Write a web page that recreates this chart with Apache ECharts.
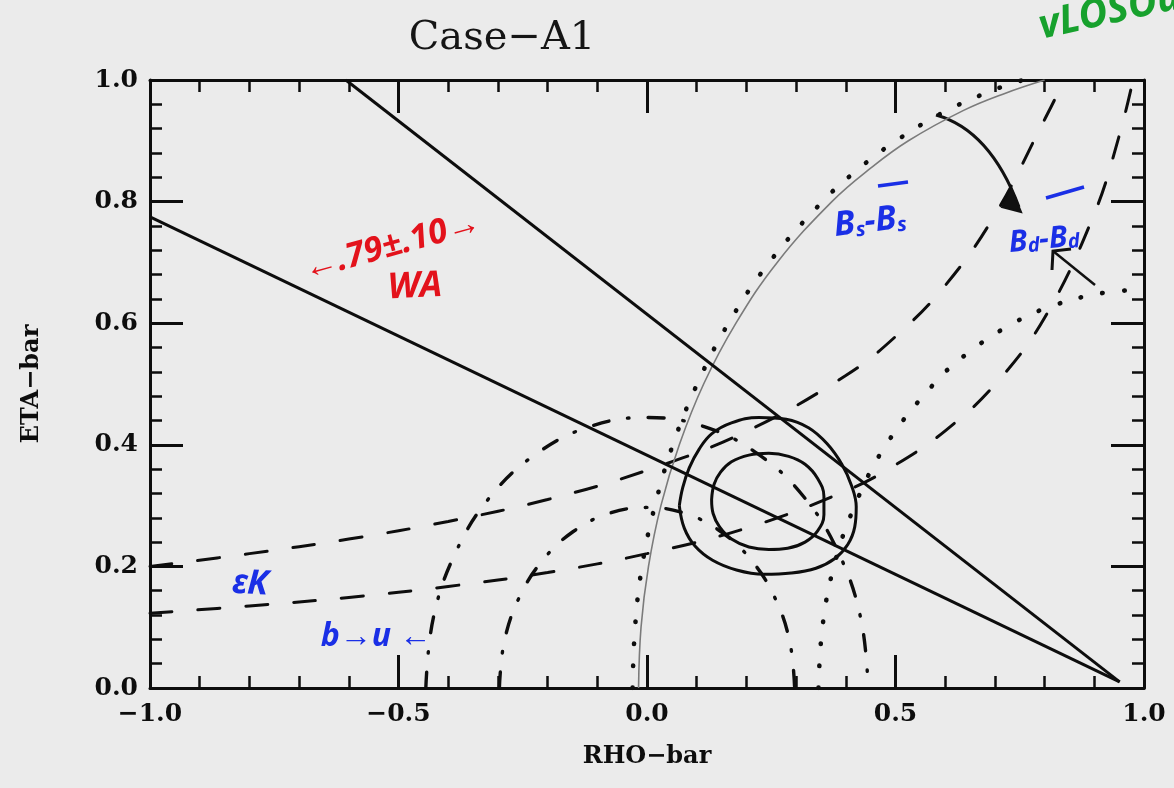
<!DOCTYPE html>
<html>
<head>
<meta charset="utf-8">
<script src="https://cdn.jsdelivr.net/npm/echarts@6/dist/echarts.min.js"></script>
<style>
  html, body { margin: 0; padding: 0; background: #ebebeb; }
  #chart { width: 1174px; height: 788px; }
</style>
</head>
<body>
<div id="chart"></div>
<script>
// Tick labels of the rho-bar / eta-bar plane
const rhoTickLabels = ['−1.0', '−0.5', '0.0', '0.5', '1.0'];
const etaTickLabels = ['0.0', '0.2', '0.4', '0.6', '0.8', '1.0'];

// sin(2 beta) wedge (solid straight lines), [rho, eta]
const sin2bUpper = [[-0.606, 1.000], [0.951, 0.010]];
const sin2bLower = [[-1.000, 0.775], [0.951, 0.010]];

// Fit contours (closed solid loops)
const contourOuter = [
  [0.065, 0.300], [0.072, 0.330], [0.085, 0.362], [0.105, 0.393], [0.130, 0.418],
  [0.170, 0.436], [0.225, 0.445], [0.280, 0.442], [0.325, 0.428], [0.362, 0.402],
  [0.392, 0.368], [0.412, 0.332], [0.421, 0.298], [0.418, 0.265], [0.404, 0.236],
  [0.378, 0.213], [0.340, 0.197], [0.290, 0.189], [0.235, 0.187], [0.180, 0.194],
  [0.132, 0.210], [0.097, 0.233], [0.075, 0.263], [0.065, 0.300]
];
const contourInner = [
  [0.130, 0.310], [0.135, 0.335], [0.148, 0.355], [0.170, 0.372], [0.205, 0.383],
  [0.245, 0.386], [0.285, 0.381], [0.318, 0.368], [0.343, 0.345], [0.356, 0.315],
  [0.356, 0.285], [0.343, 0.258], [0.318, 0.240], [0.283, 0.230], [0.245, 0.228],
  [0.205, 0.232], [0.170, 0.245], [0.146, 0.265], [0.133, 0.287], [0.130, 0.310]
];

// Bs-Bsbar mixing bound (thin grey arc)
const dmsBound = [
  [-0.017, 0.000], [-0.012, 0.100], [0.003, 0.200], [0.028, 0.300], [0.065, 0.400],
  [0.114, 0.500], [0.179, 0.600], [0.262, 0.700], [0.372, 0.800], [0.450, 0.855],
  [0.526, 0.900], [0.637, 0.950], [0.720, 0.978], [0.800, 1.000]
];

// Bd-Bdbar mixing band (dotted arcs)
const dmdOuter = [
  [-0.029, 0.000], [-0.024, 0.100], [-0.010, 0.200], [0.016, 0.300], [0.052, 0.400],
  [0.101, 0.500], [0.164, 0.600], [0.246, 0.700], [0.353, 0.800], [0.420, 0.850],
  [0.501, 0.900], [0.604, 0.950], [0.705, 0.986], [0.757, 1.000]
];
const dmdInner = [
  [0.345, 0.000], [0.353, 0.100], [0.376, 0.200], [0.418, 0.300], [0.481, 0.400],
  [0.577, 0.500], [0.644, 0.550], [0.737, 0.600], [0.821, 0.630], [0.919, 0.650],
  [1.000, 0.655]
];

// |Vub/Vcb| band (dash-dot arcs)
const vubInner = [
  [-0.297, 0.000], [-0.287, 0.077], [-0.257, 0.149], [-0.210, 0.210], [-0.149, 0.257],
  [-0.077, 0.287], [0.000, 0.297], [0.077, 0.287], [0.149, 0.257], [0.210, 0.210],
  [0.257, 0.149], [0.287, 0.077], [0.297, 0.000]
];
const vubOuter = [
  [-0.445, 0.000], [-0.430, 0.115], [-0.385, 0.223], [-0.315, 0.315], [-0.223, 0.385],
  [-0.115, 0.430], [0.000, 0.445], [0.115, 0.430], [0.223, 0.385], [0.315, 0.315],
  [0.385, 0.223], [0.430, 0.115], [0.445, 0.000]
];

// epsilon_K band (dashed hyperbolas)
const epsKUpper = [
  [-1.0, 0.200], [-0.8, 0.221], [-0.6, 0.245], [-0.4, 0.274], [-0.2, 0.310],
  [0.0, 0.358], [0.2, 0.422], [0.4, 0.514], [0.5, 0.578], [0.6, 0.662],
  [0.7, 0.778], [0.8, 0.935], [0.84, 1.000]
];
const epsKLower = [
  [-1.0, 0.123], [-0.8, 0.135], [-0.6, 0.149], [-0.4, 0.167], [-0.2, 0.190],
  [0.0, 0.221], [0.2, 0.263], [0.4, 0.324], [0.5, 0.367], [0.6, 0.423],
  [0.7, 0.499], [0.8, 0.609], [0.9, 0.780], [0.95, 0.908], [0.978, 1.000]
];

const INK = '#0d0d0d';
const labelFont = { fontFamily: '"DejaVu Serif"', fontWeight: 'bold', fontSize: 25, color: INK };

function frameAxis(opts) {
  return Object.assign({
    type: 'value',
    axisLine: { show: true, onZero: false, lineStyle: { color: INK, width: 3 } },
    axisTick: { show: true, inside: true, length: 33, lineStyle: { color: INK, width: 3 } },
    minorTick: { show: true, splitNumber: 5, length: 12, lineStyle: { color: INK, width: 2.5 } },
    splitLine: { show: false },
    minorSplitLine: { show: false }
  }, opts);
}

function curve(data, style, smooth) {
  return {
    type: 'line', data: data, showSymbol: false, symbol: 'none',
    smooth: smooth === undefined ? 0.4 : smooth,
    lineStyle: style, silent: true, clip: true
  };
}

const dashed = { color: INK, width: 3, type: [22, 26], cap: 'round' };
const dotted = { color: INK, width: 4.6, type: [0.5, 21.5], cap: 'round' };
const dashDot = { color: INK, width: 3.4, type: [16, 19, 1.5, 19], cap: 'round' };
const solid = { color: INK, width: 3, type: 'solid' };

const handFont = 'italic bold 34px "Noto Sans"';
const red = '#e3121b';
const blue = '#1a2fe6';

const chart = echarts.init(document.getElementById('chart'), null, { renderer: 'canvas' });
chart.setOption({
  animation: false,
  backgroundColor: '#ebebeb',
  title: {
    text: 'Case−A1', left: 497, top: 14, textAlign: 'center',
    textStyle: { fontFamily: '"DejaVu Serif"', fontWeight: 'normal', fontSize: 40, color: '#151515' }
  },
  grid: { left: 150, right: 30, top: 80, bottom: 100, containLabel: false },
  xAxis: [
    frameAxis({
      position: 'bottom', min: -1, max: 1, interval: 0.5,
      axisLabel: Object.assign({ margin: 14, showMinLabel: true, showMaxLabel: true,
        formatter: v => rhoTickLabels[Math.round((v + 1) / 0.5)] }, labelFont),
      name: 'RHO−bar', nameLocation: 'middle', nameGap: 57,
      nameTextStyle: { fontFamily: '"DejaVu Serif"', fontWeight: 'bold', fontSize: 24, color: INK }
    }),
    frameAxis({ position: 'top', min: -1, max: 1, interval: 0.5, axisLabel: { show: false } })
  ],
  yAxis: [
    frameAxis({
      position: 'left', min: 0, max: 1, interval: 0.2,
      axisLabel: Object.assign({ margin: 12, showMinLabel: true, showMaxLabel: true,
        formatter: v => etaTickLabels[Math.round(v / 0.2)] }, labelFont),
      name: 'ETA−bar', nameLocation: 'middle', nameGap: 106, nameRotate: 90,
      nameTextStyle: { fontFamily: '"DejaVu Serif"', fontWeight: 'bold', fontSize: 24, color: INK }
    }),
    frameAxis({ position: 'right', min: 0, max: 1, interval: 0.2, axisLabel: { show: false } })
  ],
  series: [
    curve(epsKUpper, dashed),
    curve(epsKLower, dashed),
    curve(vubInner, dashDot),
    curve(vubOuter, dashDot),
    curve(dmdOuter, dotted),
    curve(dmdInner, dotted),
    curve(dmsBound, { color: '#7b7b7b', width: 1.6, type: 'solid' }),
    curve(sin2bUpper, solid, false),
    curve(sin2bLower, solid, false),
    curve(contourOuter, solid),
    curve(contourInner, solid)
  ],
  graphic: [
    // handwritten notes
    { type: 'text', x: 392, y: 246, rotation: 0.27,
      style: { text: '←.79±.10→', font: handFont, fill: red,
        align: 'center', verticalAlign: 'middle', textAlign: 'center', textVerticalAlign: 'middle' } },
    { type: 'text', x: 415, y: 287, rotation: 0.05,
      style: { text: 'WA', font: 'italic bold 36px "Noto Sans"', fill: red,
        align: 'center', verticalAlign: 'middle', textAlign: 'center', textVerticalAlign: 'middle' } },
    { type: 'text', x: 870, y: 222, rotation: 0.12,
      style: { text: '{b|B}{s|s}{b|-B}{s|s}', fill: blue,
        align: 'center', verticalAlign: 'middle', textAlign: 'center', textVerticalAlign: 'middle',
        rich: { b: { font: handFont, fill: blue }, s: { font: 'italic bold 20px "Noto Sans"', fill: blue, padding: [14, 0, 0, 0] } } } },
    { type: 'line', shape: { x1: 878, y1: 186, x2: 908, y2: 182 }, style: { stroke: blue, lineWidth: 3.5 } },
    { type: 'text', x: 1044, y: 240, rotation: 0.1,
      style: { text: '{b|B}{s|d}{b|-B}{s|d}', fill: blue,
        align: 'center', verticalAlign: 'middle', textAlign: 'center', textVerticalAlign: 'middle',
        rich: { b: { font: 'italic bold 30px "Noto Sans"', fill: blue }, s: { font: 'italic bold 20px "Noto Sans"', fill: blue, padding: [10, 0, 0, 0] } } } },
    { type: 'line', shape: { x1: 1046, y1: 198, x2: 1084, y2: 187 }, style: { stroke: blue, lineWidth: 3.5 } },
    { type: 'text', x: 250, y: 584, rotation: -0.05,
      style: { text: 'εK', font: 'italic bold 34px "Noto Sans"', fill: blue,
        align: 'center', verticalAlign: 'middle', textAlign: 'center', textVerticalAlign: 'middle' } },
    { type: 'text', x: 376, y: 637, rotation: 0,
      style: { text: 'b→u ←', font: 'italic bold 32px "Noto Sans"', fill: blue,
        align: 'center', verticalAlign: 'middle', textAlign: 'center', textVerticalAlign: 'middle' } },
    { type: 'text', x: 1110, y: 12, rotation: 0.22,
      style: { text: 'vLOSOu', font: 'italic bold 40px "Noto Sans"', fill: '#17a12d',
        align: 'center', verticalAlign: 'middle', textAlign: 'center', textVerticalAlign: 'middle' } },
    // pointer arrows
    { type: 'bezierCurve', shape: { x1: 936, y1: 115, x2: 1019, y2: 207, cpx1: 990, cpy1: 130 },
      style: { stroke: '#111', lineWidth: 3, fill: null } },
    { type: 'polygon', shape: { points: [[1021, 212], [1011, 188], [1002, 207]] },
      style: { fill: '#111', stroke: '#111', lineWidth: 2 } },
    { type: 'line', shape: { x1: 1095, y1: 285, x2: 1053, y2: 251 }, style: { stroke: '#111', lineWidth: 2.5 } },
    { type: 'polyline', shape: { points: [[1052, 270], [1053, 251], [1071, 249]] },
      style: { stroke: '#111', lineWidth: 3, fill: null } }
  ]
});
</script>
</body>
</html>
